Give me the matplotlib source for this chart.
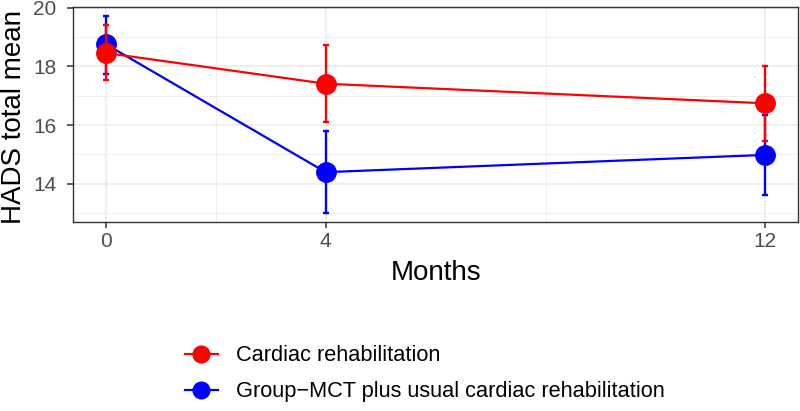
import numpy as np
import matplotlib
matplotlib.use('Agg')
import matplotlib.pyplot as plt

plt.rcParams['font.family'] = ['Liberation Sans', 'DejaVu Sans']

months = [0, 4, 12]

# Cardiac rehabilitation
cr_mean = [18.46, 17.41, 16.74]
cr_low = [17.55, 16.09, 15.45]
cr_high = [19.40, 18.72, 18.02]

# Group-MCT plus usual cardiac rehabilitation
mct_mean = [18.76, 14.39, 14.98]
mct_low = [17.73, 12.99, 13.62]
mct_high = [19.73, 15.78, 16.34]

labels = ['Cardiac rehabilitation', 'Group\u2212MCT plus usual cardiac rehabilitation']

fig = plt.figure(figsize=(8, 4.11), dpi=100)
ax = fig.add_axes([0.091, 0.46, 0.907, 0.523])

def draw(mean, low, high, col, lab, z):
    mean = np.array(mean)
    yerr = [mean - np.array(low), np.array(high) - mean]
    ax.errorbar(months, mean, yerr=yerr, fmt='none', ecolor=col,
                elinewidth=1.7, capsize=2.5, capthick=1.7, zorder=z)
    ln, = ax.plot(months, mean, '-o', color=col, lw=1.6, ms=14,
                  label=lab, zorder=z + 0.5)
    return ln

h2 = draw(mct_mean, mct_low, mct_high, 'blue', labels[1], 3)
h1 = draw(cr_mean, cr_low, cr_high, 'red', labels[0], 5)

ax.set_xlim(-0.6, 12.6)
ax.set_ylim(12.69, 20.03)
ax.set_xticks(months)
ax.set_xticks([2, 8], minor=True)
ax.set_yticks([14, 16, 18, 20])
ax.set_yticks([13, 15, 17, 19], minor=True)
ax.grid(True, which='major', color='#ebebeb', lw=1.1, zorder=0)
ax.grid(True, which='minor', color='#ebebeb', lw=0.6, zorder=0)
ax.set_axisbelow(True)
for s in ax.spines.values():
    s.set_color('#333333')
    s.set_linewidth(1.0)
ax.tick_params(which='major', length=4, width=1.1, color='#333333',
               labelsize=15, labelcolor='#4d4d4d')
ax.tick_params(axis='x', pad=3)
ax.tick_params(axis='y', pad=8)
ax.tick_params(which='minor', length=0)
ax.set_xlabel('Months', fontsize=20)
ax.set_ylabel('HADS total mean', fontsize=20)
ax.xaxis.set_label_coords(0.5, -0.175)
ax.yaxis.set_label_coords(-0.063, 0.49)

leg = fig.legend([h1, h2], labels, loc='upper left',
                 bbox_to_anchor=(0.231, 0.160), fontsize=15.7,
                 frameon=False, handlelength=1.5, handletextpad=0.85,
                 labelspacing=0.69, borderaxespad=0, borderpad=0)
for ln in leg.get_lines():
    ln.set_markersize(12)

fig.savefig('out.png', dpi=100)
